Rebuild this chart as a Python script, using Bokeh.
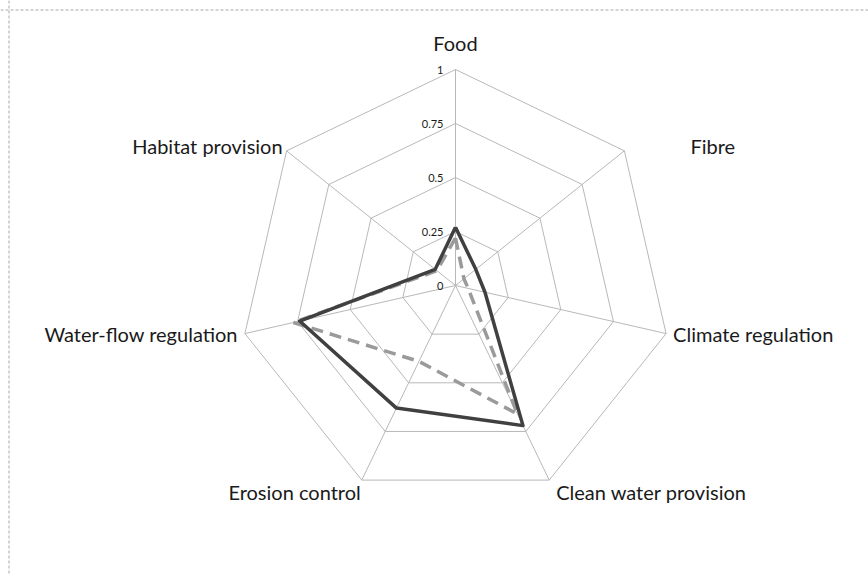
import math
from bokeh.plotting import figure
from bokeh.models import Range1d, Span
from bokeh.core.properties import value
from bokeh.embed import file_html
from bokeh.resources import INLINE

# ---- data ----
categories = ["Food", "Fibre", "Climate regulation", "Clean water provision",
              "Erosion control", "Water-flow regulation", "Habitat provision"]
series_solid = [0.27, 0.12, 0.14, 0.72, 0.63, 0.74, 0.12]
series_dashed = [0.22, 0.05, 0.06, 0.66, 0.39, 0.77, 0.11]
grid_levels = [0.25, 0.5, 0.75, 1.0]
tick_values = [0.0, 0.25, 0.5, 0.75, 1.0]
tick_labels = ["0", "0.25", "0.5", "0.75", "1"]

# ---- layout ----
W, H = 868, 575
CX, CY = 455, 285          # centre in canvas px (from top-left)
R = 216                    # radius of level 1 in px
N = len(categories)

p = figure(width=W, height=H, x_range=Range1d(-CX, W - CX), y_range=Range1d(-(H - CY), CY),
           output_backend="svg", toolbar_location=None, min_border=0,
           x_axis_type=None, y_axis_type=None)
p.grid.visible = False
p.outline_line_color = None
p.background_fill_color = "white"
p.border_fill_color = "white"

def ang(i):
    return 2 * math.pi * i / N

def pt(i, r):
    a = ang(i)
    return R * r * math.sin(a), R * r * math.cos(a)

# grid rings and spokes
g_xs, g_ys = [], []
for lv in grid_levels:
    g_xs.append([pt(i % N, lv)[0] for i in range(N + 1)])
    g_ys.append([pt(i % N, lv)[1] for i in range(N + 1)])
for i in range(N):
    g_xs.append([0, pt(i, grid_levels[-1])[0]])
    g_ys.append([0, pt(i, grid_levels[-1])[1]])
p.multi_line(g_xs, g_ys, line_color="#b8b8b8", line_width=1)

# series
def closed(vals):
    xs = [pt(i, v)[0] for i, v in enumerate(vals)]
    ys = [pt(i, v)[1] for i, v in enumerate(vals)]
    return xs + xs[:1], ys + ys[:1]

dx, dy = closed(series_dashed)
p.line(dx, dy, line_color="#9a9a9a", line_width=3.5, line_dash="12 7", line_join="round")
sx, sy = closed(series_solid)
p.line(sx, sy, line_color="#404040", line_width=3.5, line_join="round")

# tick labels along the Food axis
p.text(x=[-12] * len(tick_values), y=[R * t for t in tick_values], text=tick_labels,
       text_align="right", text_baseline="middle", text_font=value("Lato"),
       text_font_size="11px", text_color="#1a1a1a")

# category labels (offsets from each outer vertex, in px)
offs = [(0, 15, "center", "bottom"),
        (66, 5, "left", "middle"),
        (7, 0, "left", "middle"),
        (7, -12, "left", "middle"),
        (-1, -12, "right", "middle"),
        (-7, 0, "right", "middle"),
        (-4, 5, "right", "middle")]
for i, name in enumerate(categories):
    vx, vy = pt(i, 1.0)
    ox, oy, al, bl = offs[i]
    p.text(x=[vx + ox], y=[vy + oy], text=[name], text_align=al, text_baseline=bl,
           text_font=value("Lato"), text_font_size="20px", text_color="#1a1a1a")

# dashed frame (top and left edges)
p.add_layout(Span(location=CY - 9.5, dimension="width", line_color="#a8a8a8",
                  line_dash="3 2", line_width=1))
p.add_layout(Span(location=-CX + 8.5, dimension="height", line_color="#a8a8a8",
                  line_dash="3 2", line_width=1))

open("out.html", "w").write(file_html(p, INLINE))
